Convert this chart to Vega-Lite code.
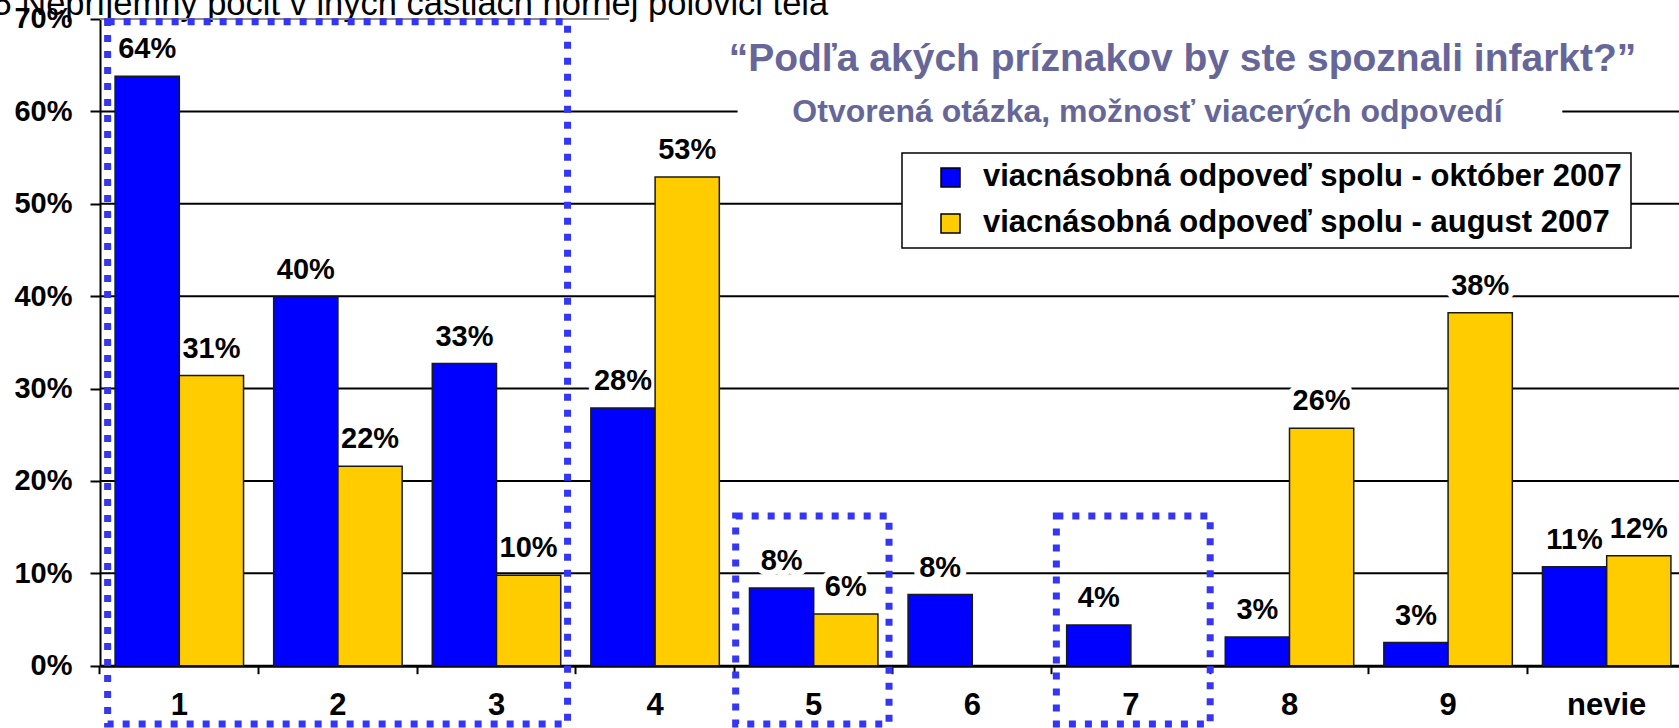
{
  "$schema": "https://vega.github.io/schema/vega-lite/v6.json",
  "width": 1579,
  "height": 646.7,
  "autosize": {"type": "none"},
  "padding": {"left": 100, "top": 19, "right": 0, "bottom": 62},
  "background": "white",
  "config": {
    "view": {"stroke": null},
    "font": "Liberation Sans, Arial, sans-serif",
    "legend": {"strokeWidth": 1.5}
  },
  "datasets": {
    "bars": [
      {"cat": "1", "s": "viacnásobná odpoveď spolu - október 2007", "v": 63.8, "label": "64%"},
      {"cat": "1", "s": "viacnásobná odpoveď spolu - august 2007", "v": 31.4, "label": "31%"},
      {"cat": "2", "s": "viacnásobná odpoveď spolu - október 2007", "v": 39.9, "label": "40%"},
      {"cat": "2", "s": "viacnásobná odpoveď spolu - august 2007", "v": 21.6, "label": "22%"},
      {"cat": "3", "s": "viacnásobná odpoveď spolu - október 2007", "v": 32.7, "label": "33%"},
      {"cat": "3", "s": "viacnásobná odpoveď spolu - august 2007", "v": 9.8, "label": "10%"},
      {"cat": "4", "s": "viacnásobná odpoveď spolu - október 2007", "v": 27.9, "label": "28%"},
      {"cat": "4", "s": "viacnásobná odpoveď spolu - august 2007", "v": 52.9, "label": "53%"},
      {"cat": "5", "s": "viacnásobná odpoveď spolu - október 2007", "v": 8.4, "label": "8%"},
      {"cat": "5", "s": "viacnásobná odpoveď spolu - august 2007", "v": 5.6, "label": "6%"},
      {"cat": "6", "s": "viacnásobná odpoveď spolu - október 2007", "v": 7.7, "label": "8%"},
      {"cat": "7", "s": "viacnásobná odpoveď spolu - október 2007", "v": 4.4, "label": "4%"},
      {"cat": "8", "s": "viacnásobná odpoveď spolu - október 2007", "v": 3.1, "label": "3%"},
      {"cat": "8", "s": "viacnásobná odpoveď spolu - august 2007", "v": 25.7, "label": "26%"},
      {"cat": "9", "s": "viacnásobná odpoveď spolu - október 2007", "v": 2.5, "label": "3%"},
      {"cat": "9", "s": "viacnásobná odpoveď spolu - august 2007", "v": 38.2, "label": "38%"},
      {"cat": "nevie", "s": "viacnásobná odpoveď spolu - október 2007", "v": 10.7, "label": "11%"},
      {"cat": "nevie", "s": "viacnásobná odpoveď spolu - august 2007", "v": 11.9, "label": "12%"}
    ],
    "ann": [
      {"kind": "grid", "v": 10, "x0": 0, "x1": 10},
      {"kind": "grid", "v": 20, "x0": 0, "x1": 10},
      {"kind": "grid", "v": 30, "x0": 0, "x1": 10},
      {"kind": "grid", "v": 40, "x0": 0, "x1": 10},
      {"kind": "grid", "v": 50, "x0": 0, "x1": 10},
      {"kind": "grid", "v": 60, "x0": 0, "x1": 4.02},
      {"kind": "grid", "v": 60, "x0": 9.22, "x1": 10},
      {"kind": "top", "v": 70, "x0": 0, "x1": 3.21},
      {"kind": "box", "v": 69.7, "v2": -6.3, "x0": 0.048, "x1": 2.948},
      {"kind": "box", "v": 16.2, "v2": -6.3, "x0": 4.008, "x1": 4.975},
      {"kind": "box", "v": 16.2, "v2": -6.3, "x0": 6.03, "x1": 7.0}
    ]
  },
  "encoding": {
    "y": {
      "field": "v",
      "type": "quantitative",
      "scale": {"domain": [0, 70], "nice": false, "zero": true},
      "axis": {
        "title": "5 Nepríjemný pocit v iných častiach hornej polovici tela",
        "titleAngle": 0,
        "titleX": -108,
        "titleY": -4,
        "titleAlign": "left",
        "titleBaseline": "alphabetic",
        "titleFontSize": 34.5,
        "titleFontWeight": "normal",
        "titleColor": "black",
        "values": [0, 10, 20, 30, 40, 50, 60, 70],
        "labelExpr": "datum.value + '%'",
        "labelFontSize": 29,
        "labelFontWeight": "bold",
        "labelColor": "black",
        "labelPadding": 18,
        "tickSize": 10,
        "tickWidth": 2,
        "tickColor": "black",
        "domainColor": "black",
        "domainWidth": 2,
        "grid": false
      }
    }
  },
  "layer": [
    {
      "data": {"name": "ann"},
      "encoding": {
        "x": {
          "field": "x0",
          "type": "quantitative",
          "scale": {"domain": [0, 10], "range": [0, 1586]},
          "axis": {
            "orient": "top",
            "title": "Otvorená otázka, možnosť viacerých odpovedí",
            "titleX": 1047,
            "titleY": 103,
            "titleAlign": "center",
            "titleBaseline": "alphabetic",
            "titleFontSize": 32,
            "titleFontWeight": "bold",
            "titleColor": "#666699",
            "labels": false,
            "ticks": false,
            "domain": false,
            "grid": false
          }
        },
        "x2": {"field": "x1"}
      },
      "layer": [
        {
          "transform": [{"filter": "datum.kind == 'grid'"}],
          "mark": {"type": "rule", "color": "black", "strokeWidth": 2}
        },
        {
          "transform": [{"filter": "datum.kind == 'top'"}],
          "mark": {"type": "rule", "color": "#8c8c8c", "strokeWidth": 2}
        }
      ]
    },
    {
      "data": {"name": "bars"},
      "encoding": {
        "x": {
          "field": "cat",
          "type": "nominal",
          "sort": ["1", "2", "3", "4", "5", "6", "7", "8", "9", "nevie"],
          "scale": {"range": [0, 1586], "paddingInner": 0.19, "paddingOuter": 0.095},
          "axis": {
            "title": "“Podľa akých príznakov by ste spoznali infarkt?”",
            "titleX": 1082,
            "titleY": -595,
            "titleAlign": "center",
            "titleBaseline": "alphabetic",
            "titleFontSize": 39,
            "titleFontWeight": "bold",
            "titleColor": "#666699",
            "labelAngle": 0,
            "labelAlign": "center",
            "labelFontSize": 31,
            "labelFontWeight": "bold",
            "labelColor": "black",
            "labelBaseline": "alphabetic",
            "labelPadding": 41,
            "tickSize": 8,
            "tickWidth": 2,
            "tickColor": "black",
            "domainColor": "black",
            "domainWidth": 3,
            "bandPosition": -0.1173,
            "grid": false
          }
        },
        "xOffset": {
          "field": "s",
          "type": "nominal",
          "scale": {"domain": ["viacnásobná odpoveď spolu - október 2007", "viacnásobná odpoveď spolu - august 2007"]}
        }
      },
      "layer": [
        {
          "mark": {"type": "text", "baseline": "alphabetic", "dy": -18, "fontSize": 29, "fontWeight": "bold", "fill": "white", "stroke": "white", "strokeWidth": 12, "strokeJoin": "round"},
          "encoding": {"text": {"field": "label"}}
        },
        {
          "mark": {"type": "bar", "stroke": "#1a1a1a", "strokeWidth": 1.5},
          "encoding": {
            "color": {
              "field": "s",
              "type": "nominal",
              "scale": {
                "domain": ["viacnásobná odpoveď spolu - október 2007", "viacnásobná odpoveď spolu - august 2007"],
                "range": ["#0000ff", "#ffcc00"]
              },
              "legend": {
                "orient": "none",
                "legendX": 802,
                "legendY": 134,
                "title": null,
                "direction": "vertical",
                "symbolType": "square",
                "symbolSize": 361,
                "symbolStrokeColor": "black",
                "symbolStrokeWidth": 1.5,
                "symbolOffset": 24,
                "labelOffset": 17,
                "labelFontSize": 31,
                "labelFontWeight": "bold",
                "labelColor": "black",
                "labelLimit": 0,
                "padding": 9,
                "rowPadding": 14,
                "fillColor": "white",
                "strokeColor": "black"
              }
            }
          }
        },
        {
          "mark": {"type": "text", "baseline": "alphabetic", "dy": -18, "fontSize": 29, "fontWeight": "bold", "color": "black"},
          "encoding": {"text": {"field": "label"}}
        }
      ]
    },
    {
      "data": {"name": "ann"},
      "transform": [{"filter": "datum.kind == 'box'"}],
      "mark": {"type": "rect", "filled": false, "stroke": "#3535f5", "strokeWidth": 7, "strokeDash": [7, 9]},
      "encoding": {
        "x": {"field": "x0", "type": "quantitative", "scale": {"domain": [0, 10], "range": [0, 1586]}, "axis": null},
        "x2": {"field": "x1"},
        "y2": {"field": "v2"}
      }
    }
  ],
  "resolve": {"scale": {"x": "independent"}, "axis": {"x": "independent"}}
}
